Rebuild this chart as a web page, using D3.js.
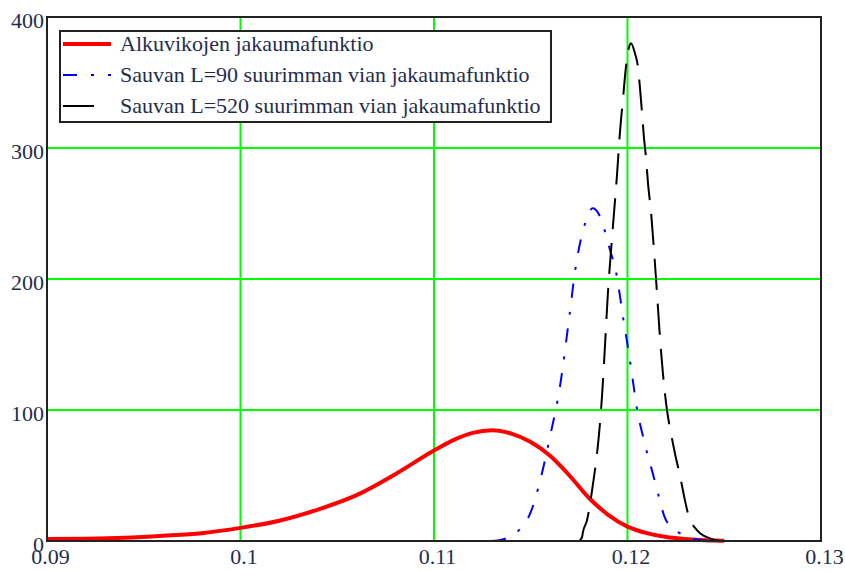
<!DOCTYPE html>
<html>
<head>
<meta charset="utf-8">
<script src="https://cdn.jsdelivr.net/npm/d3@7"></script>
<style>
  body { margin: 0; background: #fff; }
  svg text { font-family: "Liberation Serif", "DejaVu Serif", serif !important; }
</style>
</head>
<body>
<script>
// Tick values of the two axes
var xTicks = [0.09, 0.1, 0.11, 0.12, 0.13];
var yTicks = [0, 100, 200, 300, 400];

// Legend labels
var seriesNames = ["Alkuvikojen jakaumafunktio",
                   "Sauvan L=90 suurimman vian jakaumafunktio",
                   "Sauvan L=520 suurimman vian jakaumafunktio"];

// Alkuvikojen jakaumafunktio (red)
var redX = [0.090, 0.092, 0.094, 0.096, 0.098, 0.100, 0.102, 0.104, 0.106, 0.108, 0.110, 0.111, 0.112, 0.113,
            0.114, 0.115, 0.116, 0.117, 0.118, 0.119, 0.120, 0.121, 0.122, 0.123, 0.124, 0.125];
var redY = [1.5, 1.8, 2.5, 4, 6, 10, 15.5, 24, 35, 51, 69, 77, 82.5, 84.5,
            82, 75.5, 65, 50, 33, 20, 11, 6, 3, 1.5, 0.5, 0.2];

// Sauvan L=90 (blue, dash-dot)
var blueX = [0.1130, 0.1135, 0.1140, 0.1145, 0.1150, 0.1155, 0.1160, 0.1165, 0.1170, 0.1173, 0.1175, 0.1178,
             0.1182, 0.1185, 0.1188, 0.1191, 0.1194, 0.1196, 0.1198, 0.1200, 0.1203, 0.1205, 0.1208, 0.1210,
             0.1213, 0.1216, 0.1219, 0.1222, 0.1227, 0.1232, 0.1236, 0.1245];
var blueY = [0, 1, 4, 10, 22, 47, 80, 117, 172, 207, 224, 242,
             254, 250, 238, 222, 206, 188, 168, 150, 120, 100, 80, 68,
             52, 35, 19, 11, 6, 3, 1, 0];

// Sauvan L=520 (black, dashed)
var blackX = [0.1175, 0.11765, 0.1177, 0.11791, 0.11806, 0.11822, 0.11837, 0.11853, 0.11868, 0.11884, 0.11899,
              0.11915, 0.1193, 0.11946, 0.11961, 0.11977, 0.11992, 0.12008, 0.12018, 0.12039, 0.12054, 0.12065,
              0.12075, 0.12085, 0.12096, 0.12106, 0.12121, 0.12137, 0.12152, 0.12168, 0.12183, 0.12204, 0.12225,
              0.12245, 0.12271, 0.12297, 0.12318, 0.12349, 0.12375, 0.12426, 0.12478];
var blackY = [0, 3, 7, 16, 28, 44, 60, 82, 110, 150, 190,
              222, 250, 280, 312, 338, 362, 377, 380, 372, 362, 345,
              327, 308, 292, 273, 252, 222, 190, 155, 128, 100, 82,
              67, 50, 31, 18, 10, 6, 2, 0];

var width = 845, height = 571;
var margin = {left: 47, right: 24, top: 17, bottom: 30};
var fontFamily = '"Liberation Serif", "DejaVu Serif", serif';

var svg = d3.select("body").append("svg")
    .attr("width", width).attr("height", height);

// Scales
var x = d3.scaleLinear().domain([0.09, 0.13]).range([margin.left, width - margin.right]);
var y = d3.scaleLinear().domain([0, 400]).range([height - margin.bottom, margin.top]);

// Green grid lines
svg.append("g").selectAll("line").data(xTicks.slice(1, -1)).enter().append("line")
    .attr("x1", function(d){ return x(d); }).attr("x2", function(d){ return x(d); })
    .attr("y1", y(0)).attr("y2", y(400))
    .attr("stroke", "#00ff00").attr("stroke-width", 2);
svg.append("g").selectAll("line").data(yTicks.slice(1, -1)).enter().append("line")
    .attr("x1", x(0.09)).attr("x2", x(0.13))
    .attr("y1", function(d){ return y(d); }).attr("y2", function(d){ return y(d); })
    .attr("stroke", "#00ff00").attr("stroke-width", 2);

// Curves
function zip(xs, ys){ return xs.map(function(v, i){ return [v, ys[i]]; }); }
var line = d3.line()
    .x(function(d){ return x(d[0]); })
    .y(function(d){ return y(d[1]); })
    .curve(d3.curveMonotoneX);

svg.append("path").attr("d", line(zip(redX, redY)))
    .attr("fill", "none").attr("stroke", "#ff0000").attr("stroke-width", 4);
svg.append("path").attr("d", line(zip(blueX, blueY)))
    .attr("fill", "none").attr("stroke", "#0000ff").attr("stroke-width", 2)
    .attr("stroke-dasharray", "14,14,3,14");
svg.append("path").attr("d", line(zip(blackX, blackY)))
    .attr("fill", "none").attr("stroke", "#000").attr("stroke-width", 2)
    .attr("stroke-dasharray", "31,14");

// Frame around the plot
svg.append("rect")
    .attr("x", x(0.09)).attr("y", y(400))
    .attr("width", x(0.13) - x(0.09)).attr("height", y(0) - y(400))
    .attr("fill", "none").attr("stroke", "#222").attr("stroke-width", 2);

// Axes (labels only)
var xAxis = d3.axisBottom(x).tickValues(xTicks).tickSize(0).tickPadding(7)
    .tickFormat(function(d){ return String(+d.toFixed(2)); });
var yAxis = d3.axisLeft(y).tickValues(yTicks).tickSize(0).tickPadding(3)
    .tickFormat(d3.format("d"));

var gx = svg.append("g").attr("transform", "translate(3," + y(0) + ")").call(xAxis);
var gy = svg.append("g").attr("transform", "translate(" + x(0.09) + ",3)").call(yAxis);
[gx, gy].forEach(function(g){
    g.attr("font-family", null).attr("font-size", null);
    g.select(".domain").remove();
    g.selectAll("text").style("font-size", "22px").style("font-family", fontFamily)
        .attr("fill", "#1f2d4d");
});

// Legend
var legend = svg.append("g");
legend.append("rect").attr("x", 60).attr("y", 31).attr("width", 491).attr("height", 91)
    .attr("fill", "#fff").attr("stroke", "#222").attr("stroke-width", 2);
var legendStyle = [
    {color: "#ff0000", w: 4, dash: null},
    {color: "#0000ff", w: 2, dash: "14,14,3,14"},
    {color: "#000", w: 2, dash: "31,20"}
];
seriesNames.forEach(function(name, i){
    var cy = 44 + i * 31;
    legend.append("line").attr("x1", 63).attr("x2", 111).attr("y1", cy).attr("y2", cy)
        .attr("stroke", legendStyle[i].color).attr("stroke-width", legendStyle[i].w)
        .attr("stroke-dasharray", legendStyle[i].dash);
    legend.append("text").attr("x", 120).attr("y", cy + 7)
        .style("font-size", "22px").style("font-family", fontFamily).attr("fill", "#1f2d4d")
        .text(name);
});
</script>
</body>
</html>
